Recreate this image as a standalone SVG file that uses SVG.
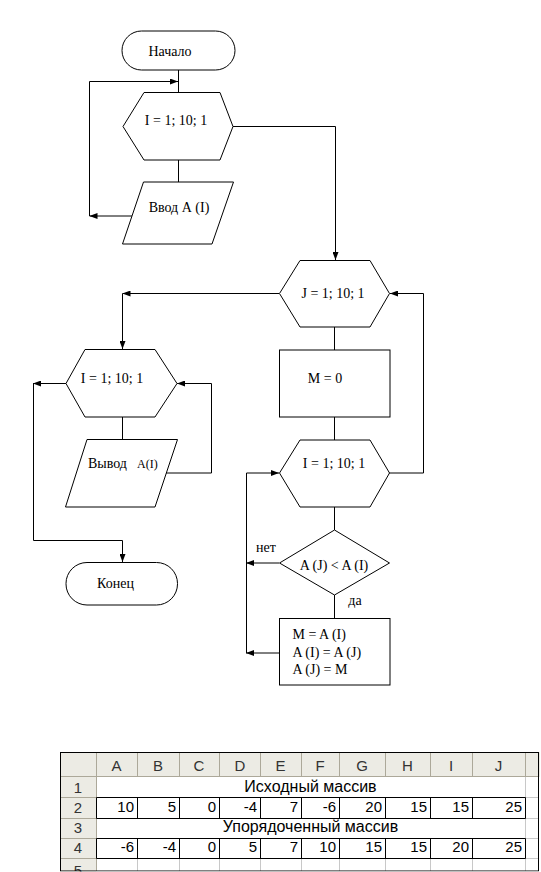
<svg xmlns="http://www.w3.org/2000/svg" width="541" height="872" viewBox="0 0 541 872">
<style>
.s{fill:#fff;stroke:#000;stroke-width:1}
.c{fill:none;stroke:#000;stroke-width:1}
.t{font-family:"Liberation Serif","Times New Roman",serif;font-size:14px;fill:#000}
.m{text-anchor:middle}
.x{font-family:"Liberation Sans",Arial,sans-serif;font-size:15px;fill:#000}
.h{fill:#333}
.g{stroke:#c8c8c8;stroke-width:1;fill:none}
.hd{stroke:#aca899;stroke-width:1;fill:none}
.b{stroke:#000;stroke-width:1;fill:none}
</style>
<defs>
<marker id="ah" viewBox="0 0 8 6" refX="8" refY="3" markerWidth="8" markerHeight="6" markerUnits="userSpaceOnUse" orient="auto">
<path d="M0,0 L8,3 L0,6 Z" fill="#000"/>
</marker>
<clipPath id="tc"><rect x="60" y="752" width="480" height="119.5"/></clipPath>
</defs>
<rect width="541" height="872" fill="#fff"/>

<g id="connectors">
<path class="c" d="M178.5 70 V92"/>
<path class="c" d="M132 216 H89.5" marker-end="url(#ah)"/>
<path class="c" d="M89.5 216 V81.5 H178" marker-end="url(#ah)"/>
<path class="c" d="M178.5 160 V182"/>
<path class="c" d="M233 126.5 H335.5 V260" marker-end="url(#ah)"/>
<path class="c" d="M279 293.5 H122.5" marker-end="url(#ah)"/>
<path class="c" d="M122.5 293.5 V349" marker-end="url(#ah)"/>
<path class="c" d="M334.5 327 V350"/>
<path class="c" d="M334.5 417 V440"/>
<path class="c" d="M389 473 H423.5 V293.5 H390" marker-end="url(#ah)"/>
<path class="c" d="M334.5 507 V530"/>
<path class="c" d="M279 563 H246" marker-end="url(#ah)"/>
<path class="c" d="M334.5 595 V618"/>
<path class="c" d="M279 653 H246" marker-end="url(#ah)"/>
<path class="c" d="M246.5 653 V473 H279" marker-end="url(#ah)"/>
<path class="c" d="M122.5 417 V439"/>
<path class="c" d="M166 473 H211.5 V383.5 H177" marker-end="url(#ah)"/>
<path class="c" d="M66 383.5 H33" marker-end="url(#ah)"/>
<path class="c" d="M33.5 383.5 V540.5 H122.5 V562" marker-end="url(#ah)"/>
</g>

<g id="start">
<rect class="s" x="122" y="31" width="113" height="39" rx="19.5"/>
<text class="t m" x="170" y="56">Начало</text>
</g>
<g id="loop-i1">
<polygon class="s" points="123,126.5 144,92.5 220,92.5 233,126.5 220,160 144,160"/>
<text class="t m" x="176" y="125">I = 1; 10; 1</text>
</g>
<g id="input">
<polygon class="s" points="143.5,182 233.5,182 212,244 122.5,244"/>
<text class="t m" x="179" y="211.5">Ввод А (I)</text>
</g>
<g id="loop-j">
<polygon class="s" points="279.5,293.5 300,260.5 370,260.5 389.5,293.5 370,327 300,327"/>
<text class="t m" x="333" y="297.5">J = 1; 10; 1</text>
</g>
<g id="m0">
<rect class="s" x="279.5" y="350" width="110.5" height="67"/>
<text class="t m" x="325" y="382.5">M = 0</text>
</g>
<g id="loop-i2">
<polygon class="s" points="279.5,473 300,440 370,440 389.5,473 370,507 300,507"/>
<text class="t m" x="334" y="468">I = 1; 10; 1</text>
</g>
<g id="cond">
<polygon class="s" points="334.5,530 389.5,563 334.5,595 279.5,563"/>
<text class="t m" x="334" y="569.5">A (J) &lt; A (I)</text>
<text class="t m" x="266" y="551.5">нет</text>
<text class="t m" x="355" y="605">да</text>
</g>
<g id="swap">
<rect class="s" x="279.5" y="618.5" width="110.5" height="66.5"/>
<text class="t" x="292.5" y="639">M = A (I)</text>
<text class="t" x="292.5" y="657">A (I) = A (J)</text>
<text class="t" x="292.5" y="674">A (J) = M</text>
</g>
<g id="loop-i3">
<polygon class="s" points="66,383.5 85,349.5 155,349.5 177,383.5 155,417 85,417"/>
<text class="t m" x="112" y="382.5">I = 1; 10; 1</text>
</g>
<g id="output">
<polygon class="s" points="87,439.5 177.5,439.5 155,507 65.5,507"/>
<text class="t" x="88" y="468">Вывод <tspan x="137" font-size="12px">A(I)</tspan></text>
</g>
<g id="end">
<rect class="s" x="66" y="562.5" width="111.5" height="42.5" rx="21"/>
<text class="t m" x="115.5" y="588">Конец</text>
</g>

<g id="table" clip-path="url(#tc)">
<rect x="60" y="752" width="480" height="120" fill="#fff"/>
<rect x="60" y="752" width="480" height="25" fill="#ecebe4"/>
<rect x="60" y="752" width="36" height="120" fill="#ecebe4"/>
<path class="g" d="M96 797.5 H539 M96 818.5 H539 M96 838.5 H539 M96 858.5 H539"/>
<path class="g" d="M525.5 777 V871 M137.5 858 V871 M179.5 858 V871 M219.5 858 V871 M260.5 858 V871 M301.5 858 V871 M339.5 858 V871 M385.5 858 V871 M430.5 858 V871 M472.5 858 V871"/>
<path class="hd" d="M96.5 752 V871 M137.5 752 V777 M179.5 752 V777 M219.5 752 V777 M260.5 752 V777 M301.5 752 V777 M339.5 752 V777 M385.5 752 V777 M430.5 752 V777 M472.5 752 V777 M525.5 752 V777"/>
<path class="hd" d="M60 776.5 H539 M60 797.5 H96 M60 818.5 H96 M60 838.5 H96 M60 858.5 H96"/>
<path class="b" d="M96.5 797.5 H525.5 M96.5 818.5 H525.5 M96.5 797.5 V818.5 M137.5 797.5 V818.5 M179.5 797.5 V818.5 M219.5 797.5 V818.5 M260.5 797.5 V818.5 M301.5 797.5 V818.5 M339.5 797.5 V818.5 M385.5 797.5 V818.5 M430.5 797.5 V818.5 M472.5 797.5 V818.5 M525.5 797.5 V818.5"/>
<path class="b" d="M96.5 838.5 H525.5 M96.5 858.5 H525.5 M96.5 838.5 V858.5 M137.5 838.5 V858.5 M179.5 838.5 V858.5 M219.5 838.5 V858.5 M260.5 838.5 V858.5 M301.5 838.5 V858.5 M339.5 838.5 V858.5 M385.5 838.5 V858.5 M430.5 838.5 V858.5 M472.5 838.5 V858.5 M525.5 838.5 V858.5"/>
<g class="x h" text-anchor="middle">
<text x="116.5" y="771">A</text><text x="158" y="771">B</text><text x="199" y="771">C</text><text x="240" y="771">D</text><text x="280.5" y="771">E</text><text x="320" y="771">F</text><text x="362" y="771">G</text><text x="407.5" y="771">H</text><text x="451" y="771">I</text><text x="498.5" y="771">J</text>
<text x="78" y="793">1</text><text x="78" y="813">2</text><text x="78" y="833">3</text><text x="78" y="853">4</text><text x="78" y="876">5</text>
</g>
<g class="x" text-anchor="middle" font-size="16px">
<text x="310.5" y="792" font-size="16px">Исходный массив</text>
<text x="310.5" y="832" font-size="16px">Упорядоченный массив</text>
</g>
<g class="x" text-anchor="end">
<text x="134" y="812">10</text><text x="176" y="812">5</text><text x="216" y="812">0</text><text x="257" y="812">-4</text><text x="298" y="812">7</text><text x="336" y="812">-6</text><text x="382" y="812">20</text><text x="427" y="812">15</text><text x="469" y="812">15</text><text x="522" y="812">25</text>
<text x="134" y="852">-6</text><text x="176" y="852">-4</text><text x="216" y="852">0</text><text x="257" y="852">5</text><text x="298" y="852">7</text><text x="336" y="852">10</text><text x="382" y="852">15</text><text x="427" y="852">15</text><text x="469" y="852">20</text><text x="522" y="852">25</text>
</g>
<rect x="60.5" y="752.5" width="478" height="118.5" fill="none" stroke="#000" stroke-width="1"/>
</g>
</svg>
